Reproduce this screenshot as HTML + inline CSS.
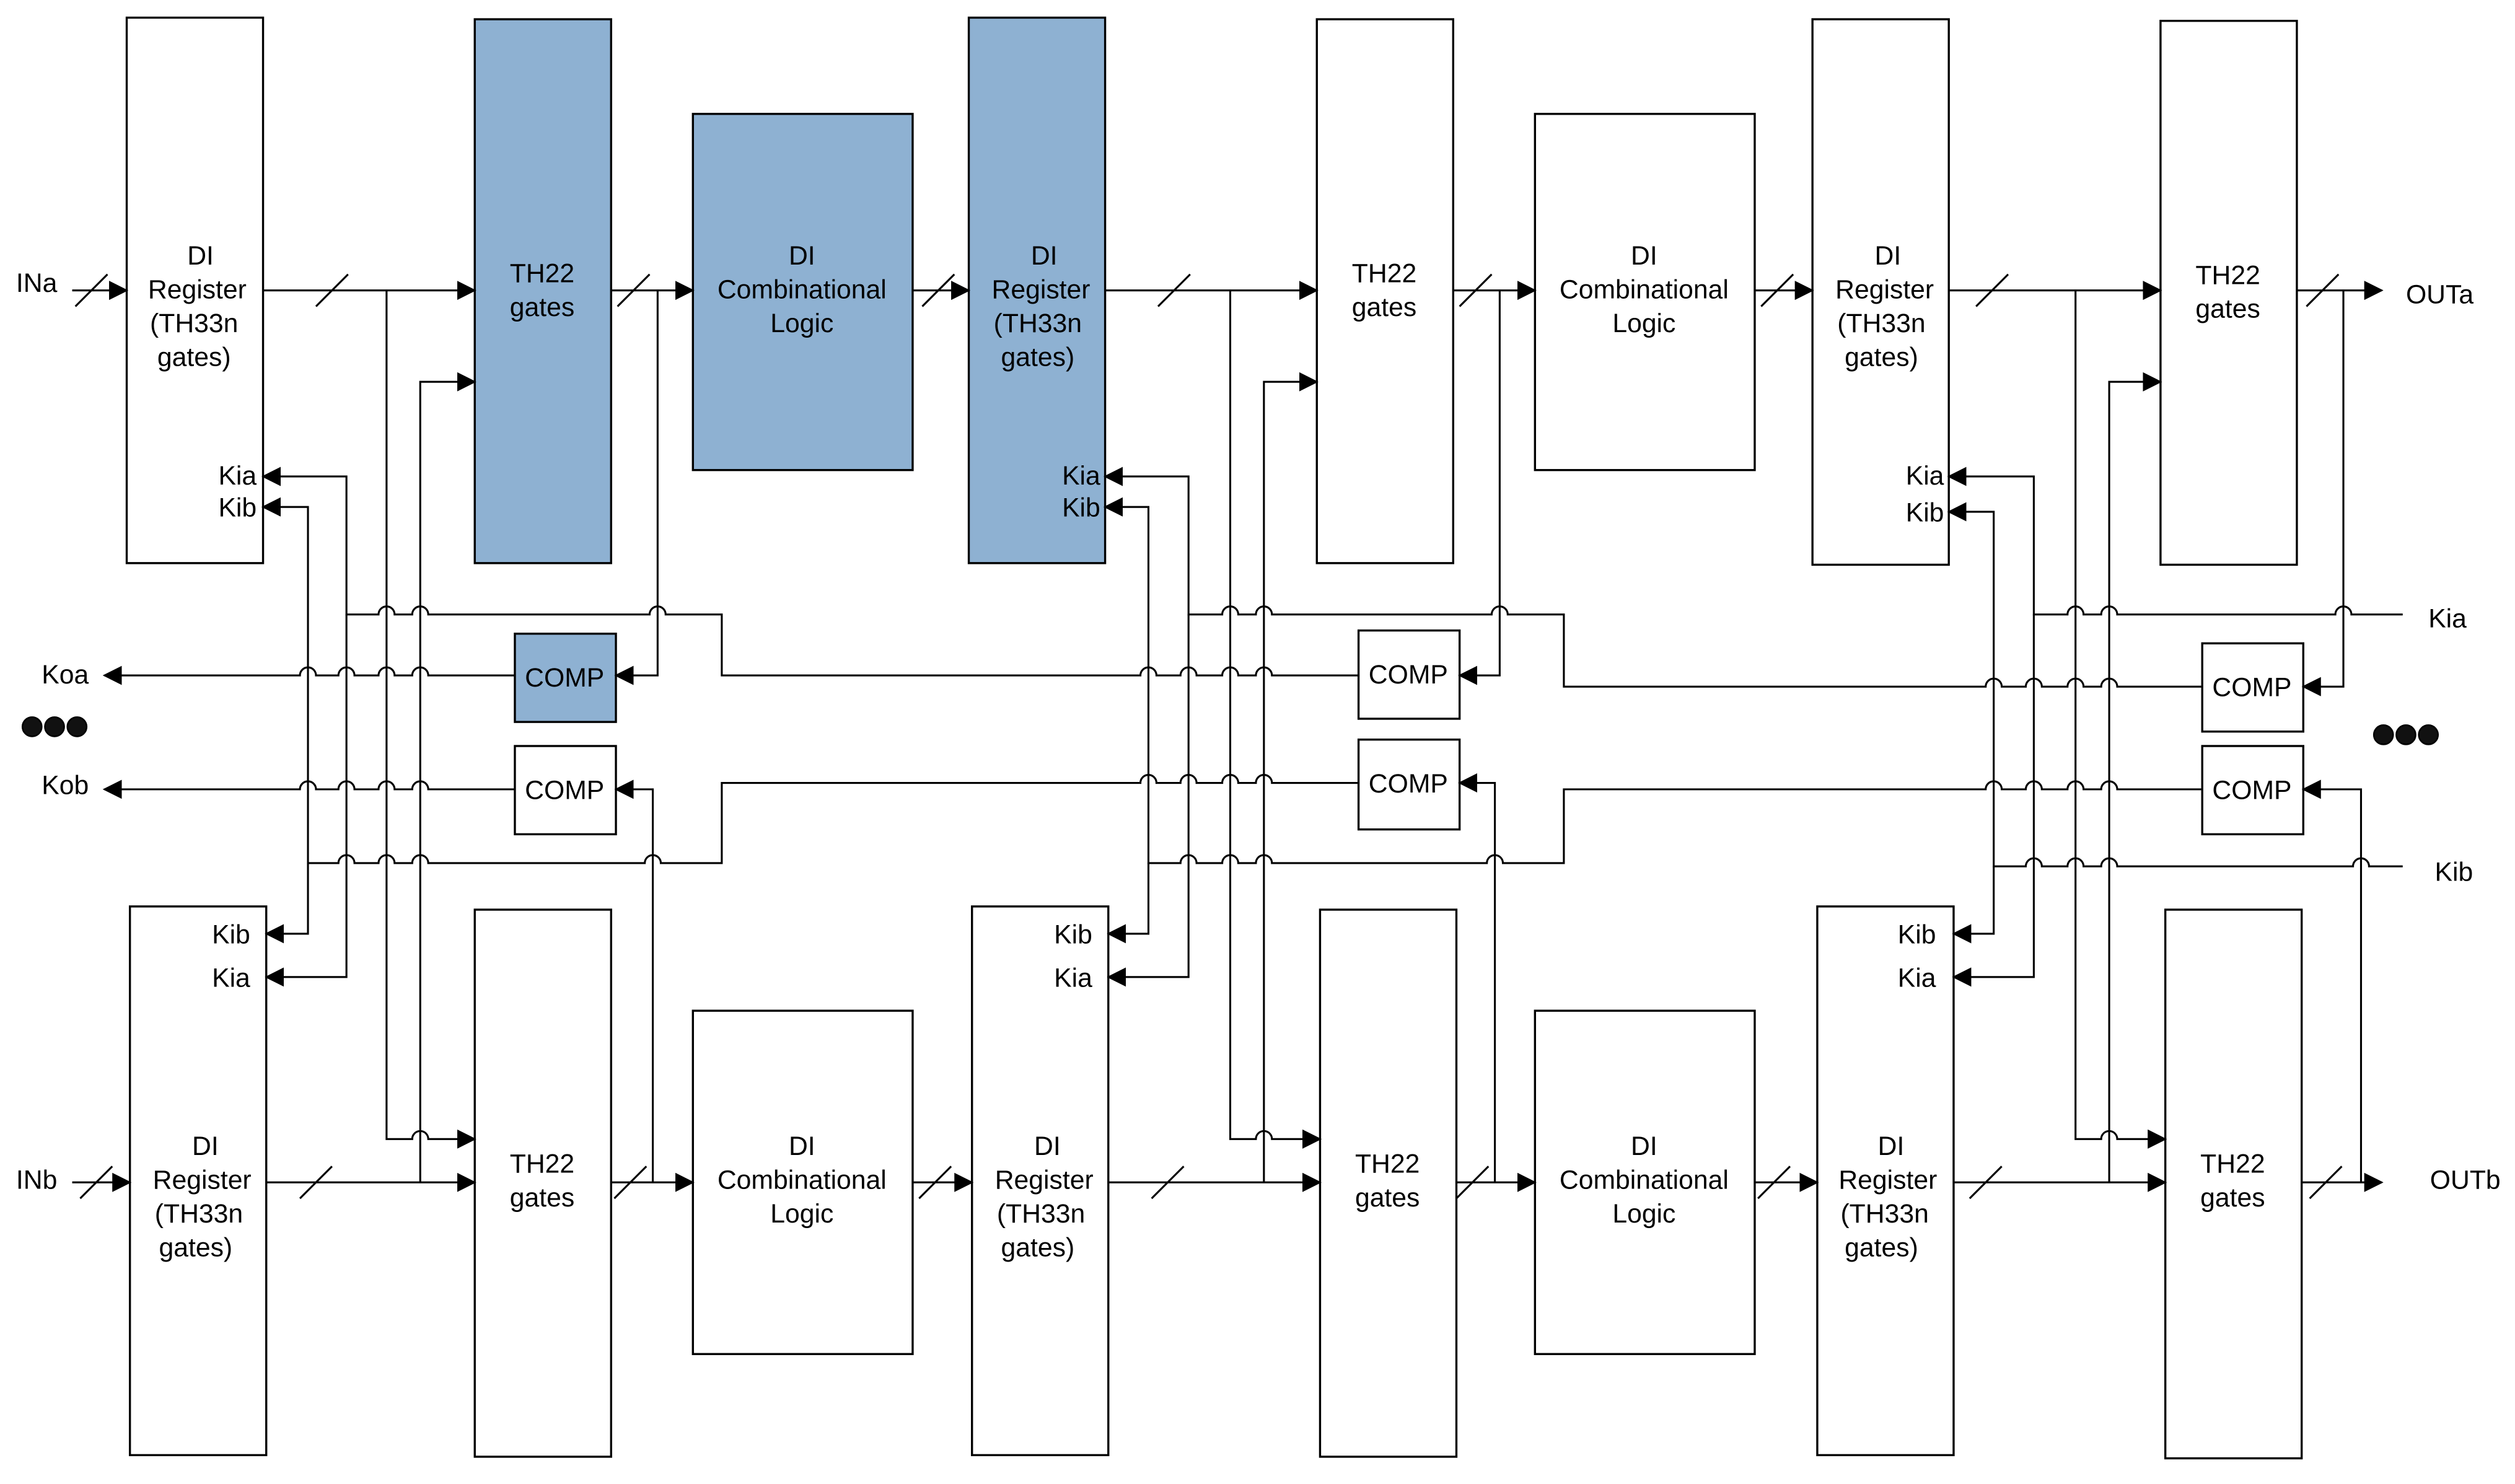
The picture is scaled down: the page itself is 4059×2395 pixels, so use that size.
<!DOCTYPE html>
<html><head><meta charset="utf-8">
<style>
html,body{margin:0;padding:0;background:#fff;}
svg{display:block;}
text{font-family:"Liberation Sans",Arial,sans-serif;font-size:16.5px;fill:#000;}
</style></head>
<body>
<svg width="4059" height="2395" viewBox="0 0 1568 925" preserveAspectRatio="none" xmlns="http://www.w3.org/2000/svg">
<defs>
<marker id="ar" markerUnits="userSpaceOnUse" markerWidth="12" markerHeight="12" refX="11" refY="6" orient="auto">
<path d="M0,0 L12,6 L0,12 z" fill="#000"/>
</marker>
</defs>
<rect width="1568" height="925" fill="#fff"/>
<g fill="#fff" stroke="#000" stroke-width="1.3">
<rect x="79" y="11" width="85" height="340"/>
<rect x="296" y="12" width="85" height="339" fill="#8EB1D2"/>
<rect x="432" y="71" width="137" height="222" fill="#8EB1D2"/>
<rect x="604" y="11" width="85" height="340" fill="#8EB1D2"/>
<rect x="821" y="12" width="85" height="339"/>
<rect x="957" y="71" width="137" height="222"/>
<rect x="1130" y="12" width="85" height="340"/>
<rect x="1347" y="13" width="85" height="339"/>
<rect x="81" y="565" width="85" height="342"/>
<rect x="296" y="567" width="85" height="341"/>
<rect x="432" y="630" width="137" height="214"/>
<rect x="606" y="565" width="85" height="342"/>
<rect x="823" y="567" width="85" height="341"/>
<rect x="957" y="630" width="137" height="214"/>
<rect x="1133" y="565" width="85" height="342"/>
<rect x="1350" y="567" width="85" height="342"/>
<rect x="321" y="395" width="63" height="55" fill="#8EB1D2"/>
<rect x="321" y="465" width="63" height="55"/>
<rect x="847" y="393" width="63" height="55"/>
<rect x="847" y="461" width="63" height="56"/>
<rect x="1373" y="401" width="63" height="55"/>
<rect x="1373" y="465" width="63" height="55"/>
</g>
<g fill="none" stroke="#000" stroke-width="1.2">
<g marker-end="url(#ar)">
<!-- stage 1 -->
<path d="M45 181 L79 181"/>
<path d="M164 181 L296 181"/>
<path d="M241 181 L241 710 L257 710 A5 5 0 0 1 267 710 L296 710"/>
<path d="M262 737 L262 238 L296 238"/>
<path d="M381 181 L432 181"/>
<path d="M410 181 L410 421 L384 421"/>
<path d="M569 181 L604 181"/>
<path d="M45 737 L81 737"/>
<path d="M166 737 L296 737"/>
<path d="M381 737 L432 737"/>
<path d="M407 737 L407 492 L384 492"/>
<path d="M569 737 L606 737"/>
<path d="M847 421 L793 421 A5 5 0 0 0 783 421 L772 421 A5 5 0 0 0 762 421 L746 421 A5 5 0 0 0 736 421 L721 421 A5 5 0 0 0 711 421 L450 421 L450 383 L415 383 A5 5 0 0 0 405 383 L267 383 A5 5 0 0 0 257 383 L246 383 A5 5 0 0 0 236 383 L216 383 L216 297 L164 297"/>
<path d="M216 383 L216 609 L166 609"/>
<path d="M847 488 L793 488 A5 5 0 0 0 783 488 L772 488 A5 5 0 0 0 762 488 L746 488 A5 5 0 0 0 736 488 L721 488 A5 5 0 0 0 711 488 L450 488 L450 538 L412 538 A5 5 0 0 0 402 538 L267 538 A5 5 0 0 0 257 538 L246 538 A5 5 0 0 0 236 538 L221 538 A5 5 0 0 0 211 538 L192 538 L192 316 L164 316"/>
<path d="M192 538 L192 582 L166 582"/>
<path d="M321 421 L267 421 A5 5 0 0 0 257 421 L246 421 A5 5 0 0 0 236 421 L221 421 A5 5 0 0 0 211 421 L197 421 A5 5 0 0 0 187 421 L65 421"/>
<path d="M321 492 L267 492 A5 5 0 0 0 257 492 L246 492 A5 5 0 0 0 236 492 L221 492 A5 5 0 0 0 211 492 L197 492 A5 5 0 0 0 187 492 L65 492"/>
<!-- stage 2 -->
<path d="M689 181 L821 181"/>
<path d="M767 181 L767 710 L783 710 A5 5 0 0 1 793 710 L823 710"/>
<path d="M788 737 L788 238 L821 238"/>
<path d="M906 181 L957 181"/>
<path d="M935 181 L935 421 L910 421"/>
<path d="M1094 181 L1130 181"/>
<path d="M691 737 L823 737"/>
<path d="M908 737 L957 737"/>
<path d="M932 737 L932 488 L910 488"/>
<path d="M1094 737 L1133 737"/>
<path d="M1373 428 L1320 428 A5 5 0 0 0 1310 428 L1299 428 A5 5 0 0 0 1289 428 L1273 428 A5 5 0 0 0 1263 428 L1248 428 A5 5 0 0 0 1238 428 L975 428 L975 383 L940 383 A5 5 0 0 0 930 383 L793 383 A5 5 0 0 0 783 383 L772 383 A5 5 0 0 0 762 383 L741 383 L741 297 L689 297"/>
<path d="M741 383 L741 609 L691 609"/>
<path d="M1373 492 L1320 492 A5 5 0 0 0 1310 492 L1299 492 A5 5 0 0 0 1289 492 L1273 492 A5 5 0 0 0 1263 492 L1248 492 A5 5 0 0 0 1238 492 L975 492 L975 538 L937 538 A5 5 0 0 0 927 538 L793 538 A5 5 0 0 0 783 538 L772 538 A5 5 0 0 0 762 538 L746 538 A5 5 0 0 0 736 538 L716 538 L716 316 L689 316"/>
<path d="M716 538 L716 582 L691 582"/>
<!-- stage 3 -->
<path d="M1215 181 L1347 181"/>
<path d="M1294 181 L1294 710 L1310 710 A5 5 0 0 1 1320 710 L1350 710"/>
<path d="M1315 737 L1315 238 L1347 238"/>
<path d="M1432 181 L1485 181"/>
<path d="M1461 181 L1461 428 L1436 428"/>
<path d="M1218 737 L1350 737"/>
<path d="M1435 737 L1485 737"/>
<path d="M1472 737 L1472 492 L1436 492"/>
<path d="M1498 383 L1466 383 A5 5 0 0 0 1456 383 L1320 383 A5 5 0 0 0 1310 383 L1299 383 A5 5 0 0 0 1289 383 L1268 383 L1268 297 L1215 297"/>
<path d="M1268 383 L1268 609 L1218 609"/>
<path d="M1498 540 L1477 540 A5 5 0 0 0 1467 540 L1320 540 A5 5 0 0 0 1310 540 L1299 540 A5 5 0 0 0 1289 540 L1273 540 A5 5 0 0 0 1263 540 L1243 540 L1243 319 L1215 319"/>
<path d="M1243 540 L1243 582 L1218 582"/>
</g>
<!-- slashes -->
<path d="M47 191 L67 171 M197 191 L217 171 M385 191 L405 171 M575 191 L595 171 M722 191 L742 171 M910 191 L930 171 M1098 191 L1118 171 M1232 191 L1252 171 M1438 191 L1458 171
M50 747 L70 727 M187 747 L207 727 M383 747 L403 727 M573 747 L593 727 M718 747 L738 727 M908 747 L928 727 M1096 747 L1116 727 M1228 747 L1248 727 M1440 747 L1460 727"/>
</g>
<g text-anchor="middle">
<text x="125" y="165">DI</text><text x="123" y="186">Register</text><text x="121" y="207">(TH33n</text><text x="121" y="228">gates)</text>
<text x="338" y="176">TH22</text><text x="338" y="197">gates</text>
<text x="500" y="165">DI</text><text x="500" y="186">Combinational</text><text x="500" y="207">Logic</text>
<text x="651" y="165">DI</text><text x="649" y="186">Register</text><text x="647" y="207">(TH33n</text><text x="647" y="228">gates)</text>
<text x="863" y="176">TH22</text><text x="863" y="197">gates</text>
<text x="1025" y="165">DI</text><text x="1025" y="186">Combinational</text><text x="1025" y="207">Logic</text>
<text x="1177" y="165">DI</text><text x="1175" y="186">Register</text><text x="1173" y="207">(TH33n</text><text x="1173" y="228">gates)</text>
<text x="1389" y="177">TH22</text><text x="1389" y="198">gates</text>
<text x="128" y="720">DI</text><text x="126" y="741">Register</text><text x="124" y="762">(TH33n</text><text x="122" y="783">gates)</text>
<text x="338" y="731">TH22</text><text x="338" y="752">gates</text>
<text x="500" y="720">DI</text><text x="500" y="741">Combinational</text><text x="500" y="762">Logic</text>
<text x="653" y="720">DI</text><text x="651" y="741">Register</text><text x="649" y="762">(TH33n</text><text x="647" y="783">gates)</text>
<text x="865" y="731">TH22</text><text x="865" y="752">gates</text>
<text x="1025" y="720">DI</text><text x="1025" y="741">Combinational</text><text x="1025" y="762">Logic</text>
<text x="1179" y="720">DI</text><text x="1177" y="741">Register</text><text x="1175" y="762">(TH33n</text><text x="1173" y="783">gates)</text>
<text x="1392" y="731">TH22</text><text x="1392" y="752">gates</text>
<text x="352" y="428">COMP</text><text x="352" y="498">COMP</text>
<text x="878" y="426">COMP</text><text x="878" y="494">COMP</text>
<text x="1404" y="434">COMP</text><text x="1404" y="498">COMP</text>
</g>
<g text-anchor="end">
<text x="160" y="302">Kia</text><text x="160" y="322">Kib</text>
<text x="686" y="302">Kia</text><text x="686" y="322">Kib</text>
<text x="1212" y="302">Kia</text><text x="1212" y="325">Kib</text>
<text x="156" y="588">Kib</text><text x="156" y="615">Kia</text>
<text x="681" y="588">Kib</text><text x="681" y="615">Kia</text>
<text x="1207" y="588">Kib</text><text x="1207" y="615">Kia</text>
</g>
<text x="10" y="182">INa</text><text x="10" y="741">INb</text>
<text x="1500" y="189">OUTa</text><text x="1515" y="741">OUTb</text>
<text x="26" y="426">Koa</text><text x="26" y="495">Kob</text>
<text x="1514" y="391">Kia</text><text x="1518" y="549">Kib</text>
<g fill="#111" stroke="#000">
<circle cx="20" cy="453" r="6"/><circle cx="34" cy="453" r="6"/><circle cx="48" cy="453" r="6"/>
<circle cx="1486" cy="458" r="6"/><circle cx="1500" cy="458" r="6"/><circle cx="1514" cy="458" r="6"/>
</g>
</svg>
</body></html>
